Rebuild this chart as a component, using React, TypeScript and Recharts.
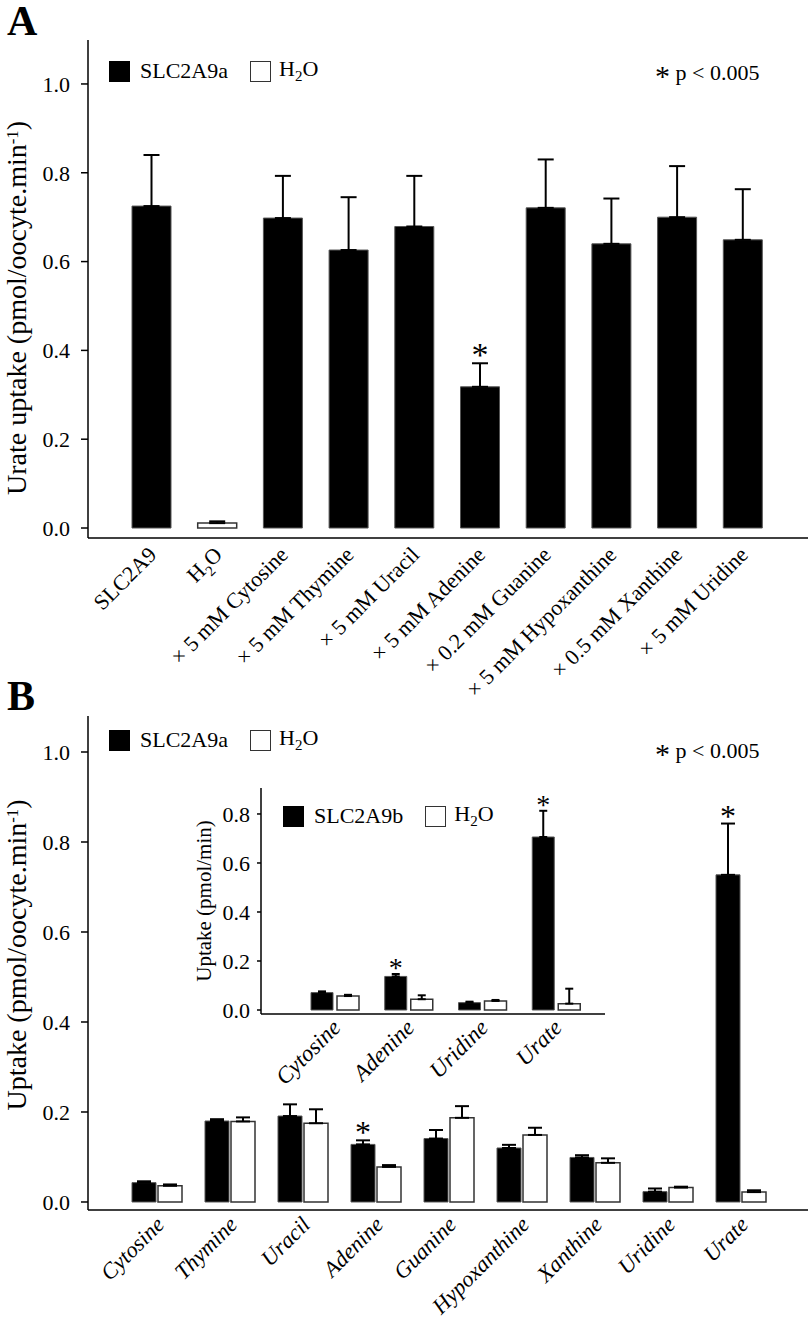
import React from 'react';
import { BarChart, Bar, XAxis, YAxis, ErrorBar, Cell, LabelList } from 'recharts';

const FONT = '"Liberation Serif", Tinos, "Times New Roman", Times, serif';

// panel A: single series, urate uptake with inhibitors
const aCategories = [
  'SLC2A9',
  'H2O',
  '× 5 mM Cytosine',
  '× 5 mM Thymine',
  '× 5 mM Uracil',
  '× 5 mM Adenine',
  '× 0.2 mM Guanine',
  '× 5 mM Hypoxanthine',
  '× 0.5 mM Xanthine',
  '× 5 mM Uridine',
];
const aUptake = [0.725, 0.011, 0.698, 0.626, 0.679, 0.318, 0.721, 0.64, 0.7, 0.649];
const aError = [0.115, 0.004, 0.095, 0.119, 0.114, 0.053, 0.109, 0.102, 0.115, 0.114];
const aSignificant = ['× 5 mM Adenine'];

// panel B: SLC2A9a vs water
const bCategories = ['Cytosine', 'Thymine', 'Uracil', 'Adenine', 'Guanine', 'Hypoxanthine', 'Xanthine', 'Uridine', 'Urate'];
const bSlc = [0.043, 0.18, 0.191, 0.128, 0.141, 0.12, 0.099, 0.023, 0.727];
const bSlcErr = [0.003, 0.004, 0.026, 0.009, 0.019, 0.007, 0.005, 0.007, 0.114];
const bWater = [0.036, 0.179, 0.175, 0.078, 0.187, 0.149, 0.087, 0.032, 0.022];
const bWaterErr = [0.003, 0.009, 0.031, 0.004, 0.026, 0.016, 0.01, 0.002, 0.004];
const bSignificant = ['Adenine', 'Urate'];

// inset: SLC2A9b vs water
const insetCategories = ['Cytosine', 'Adenine', 'Uridine', 'Urate'];
const insetSlc = [0.071, 0.137, 0.03, 0.706];
const insetSlcErr = [0.005, 0.01, 0.004, 0.107];
const insetWater = [0.057, 0.044, 0.037, 0.026];
const insetWaterErr = [0.005, 0.016, 0.004, 0.061];
const insetSignificant = ['Adenine', 'Urate'];

const mainTicks = [0, 0.2, 0.4, 0.6, 0.8, 1.0];
const insetTicks = [0, 0.2, 0.4, 0.6, 0.8];

const dataA = aCategories.map((name, i) => ({ name, uptake: aUptake[i], err: [0, aError[i]] }));
const dataB = bCategories.map((name, i) => ({
  name,
  slc: bSlc[i],
  slcErr: [0, bSlcErr[i]],
  water: bWater[i],
  waterErr: [0, bWaterErr[i]],
}));
const dataInset = insetCategories.map((name, i) => ({
  name,
  slc: insetSlc[i],
  slcErr: [0, insetSlcErr[i]],
  water: insetWater[i],
  waterErr: [0, insetWaterErr[i]],
}));

const chem = (label: string, size: number) => {
  const i = label.indexOf('H2O');
  if (i < 0) return label;
  return [
    label.slice(0, i) + 'H',
    <tspan key="sub" dy={size * 0.28} fontSize={size * 0.68}>2</tspan>,
    <tspan key="o" dy={-size * 0.28}>O</tspan>,
  ];
};

const SlantTick = (props: any) => {
  const { x, y, payload, dx = 0, dy = 0, fontSize = 22, italic = false } = props;
  const tx = x + dx;
  const ty = y + dy;
  return (
    <text
      x={tx}
      y={ty}
      transform={`rotate(-45, ${tx}, ${ty})`}
      textAnchor="end"
      fontFamily={FONT}
      fontSize={fontSize}
      fontStyle={italic ? 'italic' : 'normal'}
      fill="#000"
    >
      {chem(String(payload.value), fontSize)}
    </text>
  );
};

const AxisTitle = (props: any) => {
  const { tx, ty, fontSize, text, sup } = props;
  return (
    <text transform={`translate(${tx},${ty}) rotate(-90)`} textAnchor="middle" fontFamily={FONT} fontSize={fontSize} fill="#000">
      {text}
      {sup ? (
        <>
          <tspan dy={-fontSize * 0.3} fontSize={fontSize * 0.6}>{sup}</tspan>
          <tspan dy={fontSize * 0.3}>)</tspan>
        </>
      ) : null}
    </text>
  );
};

const starContent = (flags: boolean[], err: number[], fontSize: number, lift: number) => (props: any) => {
  const box = props.viewBox && props.viewBox.width != null ? props.viewBox : props;
  const { x, y, width, height } = box;
  const index = props.index;
  const value = Number(props.value);
  if (index == null || !flags[index] || !value) return null;
  const capY = y - (err[index] * height) / value;
  return (
    <text x={x + width / 2} y={capY + lift} textAnchor="middle" fontFamily={FONT} fontSize={fontSize} fill="#000">
      *
    </text>
  );
};

const tickStyle = { fill: '#000', fontSize: 22, fontFamily: FONT };
const frame = { stroke: '#000', strokeWidth: 1.5 };

const LegendKey = ({ left, top, label, size = 21 }: any) => (
  <div
    style={{
      position: 'absolute',
      left,
      top: top - size / 2,
      height: size,
      display: 'flex',
      alignItems: 'center',
      fontSize: 22,
      lineHeight: 1,
      whiteSpace: 'nowrap',
    }}
  >
    <div style={{ width: size, height: size, background: '#000', marginRight: 10 }} />
    <span>{label}</span>
    <div style={{ width: size - 2, height: size - 2, border: '1.5px solid #333', background: '#fff', marginLeft: 22, marginRight: 8 }} />
    <span>
      H<sub style={{ fontSize: 15 }}>2</sub>O
    </span>
  </div>
);

const PValue = ({ left, top }: any) => (
  <div style={{ position: 'absolute', left, top, fontSize: 22, lineHeight: 1, whiteSpace: 'nowrap' }}>
    <span style={{ fontSize: 30, position: 'relative', top: 6 }}>*</span> p &lt; 0.005
  </div>
);

export default function App() {
  const flagsA = aCategories.map((c) => aSignificant.includes(c));
  const flagsB = bCategories.map((c) => bSignificant.includes(c));
  const flagsInset = insetCategories.map((c) => insetSignificant.includes(c));

  return (
    <div style={{ position: 'absolute', left: 0, top: 0, width: 812, height: 1322, background: '#fff', fontFamily: FONT, color: '#000' }}>
      {/* Panel A */}
      <div style={{ position: 'absolute', left: 0, top: 0 }}>
        <BarChart width={812} height={720} data={dataA} margin={{ top: 40, right: 4, left: 28, bottom: 12 }}>
          <XAxis
            dataKey="name"
            height={170}
            interval={0}
            padding={{ left: 31, right: 32 }}
            axisLine={frame}
            tickLine={false}
            tickSize={0}
            tickMargin={0}
            tick={<SlantTick dx={6} dy={18} fontSize={22} />}
          />
          <XAxis xAxisId="top" orientation="top" height={0} axisLine={frame} tick={false} tickLine={false} />
          <YAxis
            type="number"
            width={60}
            domain={[-0.0225, 1.099]}
            ticks={mainTicks}
            allowDataOverflow
            axisLine={frame}
            tickLine={{ stroke: '#000', strokeWidth: 1.5 }}
            tickSize={7}
            tickMargin={11}
            tick={tickStyle}
            tickFormatter={(v: number) => v.toFixed(1)}
            label={<AxisTitle tx={26} ty={308} fontSize={28} text="Urate uptake (pmol/oocyte.min" sup="-1" />}
          />
          <YAxis yAxisId="right" orientation="right" width={0} axisLine={frame} tick={false} tickLine={false} />
          <Bar dataKey="uptake" barSize={39} stroke="#555" strokeWidth={1} isAnimationActive={false}>
            {dataA.map((d) => (
              <Cell
                key={d.name}
                fill={d.name === 'H2O' ? '#fff' : '#000'}
                stroke={d.name === 'H2O' ? '#333' : '#555'}
                strokeWidth={d.name === 'H2O' ? 1.5 : 1}
              />
            ))}
            <ErrorBar dataKey="err" width={8} stroke="#000" strokeWidth={2} direction="y" isAnimationActive={false} />
            <LabelList dataKey="uptake" content={starContent(flagsA, aError, 34, 3)} />
          </Bar>
        </BarChart>
      </div>
      <div style={{ position: 'absolute', left: 7, top: 0, fontSize: 42, fontWeight: 700, lineHeight: 1 }}>A</div>
      <LegendKey left={109} top={71} label="SLC2A9a" />
      <PValue left={655} top={55} />

      {/* Panel B */}
      <div style={{ position: 'absolute', left: 0, top: 680 }}>
        <BarChart width={812} height={642} data={dataB} margin={{ top: 36, right: 4, left: 28, bottom: 12 }} barGap={2}>
          <XAxis
            dataKey="name"
            height={100}
            interval={0}
            padding={{ left: 32, right: 31 }}
            axisLine={frame}
            tickLine={false}
            tickSize={0}
            tickMargin={0}
            tick={<SlantTick dx={9} dy={16} fontSize={22.5} italic />}
          />
          <XAxis xAxisId="top" orientation="top" height={0} axisLine={frame} tick={false} tickLine={false} />
          <YAxis
            type="number"
            width={60}
            domain={[-0.0178, 1.08]}
            ticks={mainTicks}
            allowDataOverflow
            axisLine={frame}
            tickLine={{ stroke: '#000', strokeWidth: 1.5 }}
            tickSize={7}
            tickMargin={11}
            tick={tickStyle}
            tickFormatter={(v: number) => v.toFixed(1)}
            label={<AxisTitle tx={26} ty={275} fontSize={28} text="Uptake (pmol/oocyte.min" sup="-1" />}
          />
          <YAxis yAxisId="right" orientation="right" width={0} axisLine={frame} tick={false} tickLine={false} />
          <Bar dataKey="slc" barSize={24} fill="#000" stroke="#555" strokeWidth={1} isAnimationActive={false}>
            <ErrorBar dataKey="slcErr" width={7} stroke="#000" strokeWidth={2} direction="y" isAnimationActive={false} />
            <LabelList dataKey="slc" content={starContent(flagsB, bSlcErr, 32, 3)} />
          </Bar>
          <Bar dataKey="water" barSize={24} fill="#fff" stroke="#333" strokeWidth={1.5} isAnimationActive={false}>
            <ErrorBar dataKey="waterErr" width={7} stroke="#000" strokeWidth={2} direction="y" isAnimationActive={false} />
          </Bar>
        </BarChart>
      </div>
      <div style={{ position: 'absolute', left: 7, top: 675, fontSize: 42, fontWeight: 700, lineHeight: 1 }}>B</div>
      <LegendKey left={109} top={740} label="SLC2A9a" />
      <PValue left={655} top={733} />

      {/* Inset */}
      <div style={{ position: 'absolute', left: 150, top: 770 }}>
        <BarChart width={470} height={340} data={dataInset} margin={{ top: 18, right: 15, left: 56, bottom: 6 }} barGap={4}>
          <XAxis
            dataKey="name"
            height={90}
            interval={0}
            padding={{ left: 37, right: 12 }}
            axisLine={frame}
            tickLine={false}
            tickSize={0}
            tickMargin={0}
            tick={<SlantTick dx={7} dy={15} fontSize={23} italic />}
          />
          <XAxis xAxisId="top" orientation="top" height={0} axisLine={frame} tick={false} tickLine={false} />
          <YAxis
            type="number"
            width={55}
            domain={[-0.0163, 0.906]}
            ticks={insetTicks}
            allowDataOverflow
            axisLine={frame}
            tickLine={{ stroke: '#000', strokeWidth: 1.5 }}
            tickSize={4}
            tickMargin={7}
            tick={tickStyle}
            tickFormatter={(v: number) => v.toFixed(1)}
            label={<AxisTitle tx={61} ty={131} fontSize={21} text="Uptake (pmol/min)" />}
          />
          <YAxis yAxisId="right" orientation="right" width={0} axisLine={frame} tick={false} tickLine={false} />
          <Bar dataKey="slc" barSize={22} fill="#000" stroke="#555" strokeWidth={1} isAnimationActive={false}>
            <ErrorBar dataKey="slcErr" width={4} stroke="#000" strokeWidth={2} direction="y" isAnimationActive={false} />
            <LabelList dataKey="slc" content={starContent(flagsInset, insetSlcErr, 28, 3)} />
          </Bar>
          <Bar dataKey="water" barSize={22} fill="#fff" stroke="#333" strokeWidth={1.5} isAnimationActive={false}>
            <ErrorBar dataKey="waterErr" width={4} stroke="#000" strokeWidth={2} direction="y" isAnimationActive={false} />
          </Bar>
        </BarChart>
      </div>
      <LegendKey left={283} top={816} label="SLC2A9b" size={21} />
    </div>
  );
}
